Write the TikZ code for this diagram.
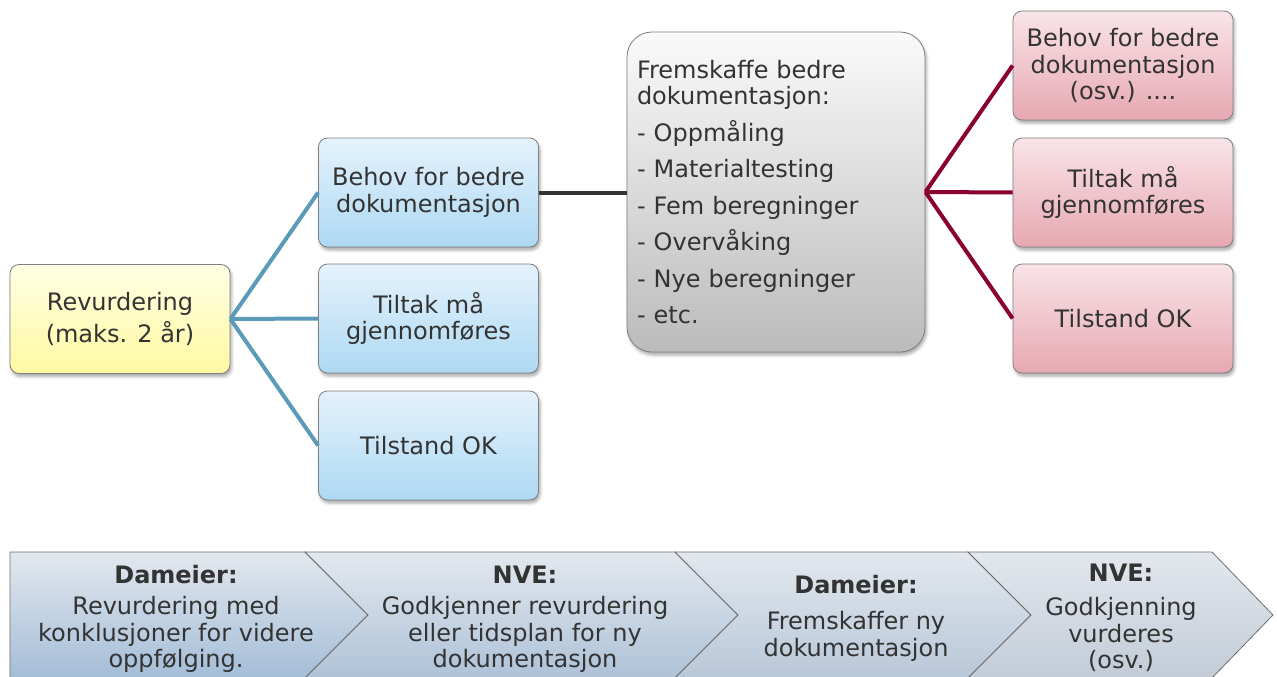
\documentclass[tikz,border=0pt]{standalone}
\usepackage{fontspec}
\setmainfont{DejaVu Sans}
\usetikzlibrary{shadows.blur}
\definecolor{txt}{HTML}{333333}
\definecolor{boxline}{HTML}{7F7F7F}
\definecolor{ytop}{HTML}{FFFFE4}
\definecolor{ybot}{HTML}{FFF9A2}
\definecolor{btop}{HTML}{E4F2FC}
\definecolor{bbot}{HTML}{AED9F3}
\definecolor{rtop}{HTML}{F9E4E8}
\definecolor{rbot}{HTML}{E7A8B2}
\definecolor{gtop}{HTML}{FAFAFA}
\definecolor{gbot}{HTML}{BBBBBB}
\definecolor{bluecon}{HTML}{5B9AB8}
\definecolor{redcon}{HTML}{8B0033}
\definecolor{blackcon}{HTML}{333333}
\definecolor{ctop}{HTML}{E3E8EE}
\definecolor{cbotA}{HTML}{A4BDD8}
\definecolor{cbotB}{HTML}{AEC2D8}
\definecolor{cbotC}{HTML}{B8C7D8}
\definecolor{cbotD}{HTML}{C2CBD7}
\definecolor{chevline}{HTML}{6E6E6E}
\begin{document}
\begin{tikzpicture}[x=1pt,y=-1pt,
  mainfont/.style={font=\fontsize{24}{26.5}\selectfont},
  box/.style={draw=boxline, line width=0.8pt, rounded corners=9pt,
    minimum width=220pt, minimum height=109pt, align=center, text=txt,
    mainfont, inner sep=4pt,
    blur shadow={shadow xshift=1.5pt, shadow yshift=-3pt, shadow blur radius=3pt, shadow opacity=35}},
  ybox/.style={box, top color=ytop, bottom color=ybot},
  bbox/.style={box, top color=btop, bottom color=bbot},
  rbox/.style={box, top color=rtop, bottom color=rbot},
  gbox/.style={box, top color=gtop, bottom color=gbot, rounded corners=25pt,
    minimum width=298pt, minimum height=320pt, align=left, text width=278pt, inner xsep=10pt},
  bcon/.style={draw=bluecon, line width=4pt},
  rcon/.style={draw=redcon, line width=4pt},
  kcon/.style={draw=blackcon, line width=4pt},
  chev/.style={draw=chevline, line width=0.8pt, top color=ctop},
  chevtext/.style={align=center, text=txt, mainfont, inner sep=0pt}
]
\useasboundingbox (0,0) rectangle (1277,677);
\clip (0,0) rectangle (1277,677);

% top boxes
\node[ybox] (rev) at (120,319) {Revurdering\\[5.5pt](maks. 2 år)};
\node[bbox] (b1) at (428.5,192.5) {Behov for bedre\\dokumentasjon};
\node[bbox] (b2) at (428.5,318.5) {Tiltak må\\gjennomføres};
\node[bbox] (b3) at (428.5,445.5) {Tilstand OK};
\node[gbox] (g) at (776,192) {Fremskaffe bedre\\dokumentasjon:\\[10pt]
- Oppmåling\\[10pt]- Materialtesting\\[10pt]- Fem beregninger\\[10pt]- Overvåking\\[10pt]- Nye beregninger\\[10pt]- etc.};
\node[rbox] (r1) at (1123,65.5) {Behov for bedre\\dokumentasjon\\(osv.) ....};
\node[rbox] (r2) at (1123,192.5) {Tiltak må\\gjennomføres};
\node[rbox] (r3) at (1123,318.5) {Tilstand OK};

% connectors
\draw[bcon] (rev.east) -- (b1.west);
\draw[bcon] (rev.east) -- (b2.west);
\draw[bcon] (rev.east) -- (b3.west);
\draw[kcon] (b1.east) -- (g.west |- b1.east);
\draw[rcon] (g.east) -- (r1.west);
\draw[rcon] (g.east) -- (r2.west);
\draw[rcon] (g.east) -- (r3.west);

% chevrons
\path[chev, bottom color=cbotA] (10,552) -- (305,552) -- (368,615) -- (305,678) -- (10,678) -- cycle;
\path[chev, bottom color=cbotB] (305,552) -- (675,552) -- (738,615) -- (675,678) -- (305,678) -- (368,615) -- cycle;
\path[chev, bottom color=cbotC] (675,552) -- (968,552) -- (1031,615) -- (968,678) -- (675,678) -- (738,615) -- cycle;
\path[chev, bottom color=cbotD] (968,552) -- (1212,552) -- (1273,615) -- (1212,678) -- (968,678) -- (1031,615) -- cycle;

\node[chevtext] (c1) at (176,619) {\textbf{Dameier:}\\[5pt]Revurdering med\\konklusjoner for videre\\oppfølging.};
\node[chevtext] (c2) at (525,619) {\textbf{NVE:}\\[5pt]Godkjenner revurdering\\eller tidsplan for ny\\dokumentasjon};
\node[chevtext] (c3) at (856,618) {\textbf{Dameier:}\\[10pt]Fremskaffer ny\\dokumentasjon};
\node[chevtext] (c4) at (1121,618) {\textbf{NVE:}\\[8pt]Godkjenning\\vurderes\\(osv.)};
\end{tikzpicture}
\end{document}
